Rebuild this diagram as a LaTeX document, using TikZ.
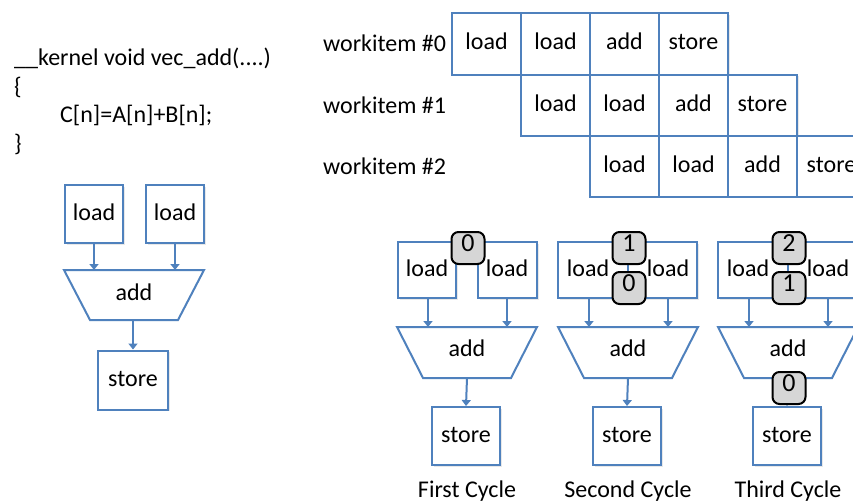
\documentclass[tikz,border=0pt]{standalone}
\usepackage{fontspec}
\setmainfont{Carlito}
\usetikzlibrary{arrows.meta,shadows}
\definecolor{boxblue}{HTML}{4F81BD}
\definecolor{badgegray}{HTML}{D6D6D6}

% One pipeline stage: #1 name, #2 centre x, #3/#4 left load box edges,
% #5/#6 right load box edges, #7 caption
\newcommand\pipestage[7]{%
  \node[unit, minimum width={#4-#3}, minimum height=56pt,
        label={[xshift={#2-40-(#3+#4)/2}]center:load}] (#1-la) at ({(#3+#4)/2}, 270) {};
  \node[unit, minimum width={#6-#5}, minimum height=56pt,
        label={[xshift={#2+40-(#5+#6)/2}]center:load}] (#1-lb) at ({(#5+#6)/2}, 270) {};
  \draw[trap] (#2-70,327) -- (#2+70,327) -- (#2+44,378) -- (#2-44,378) -- cycle;
  \node (#1-add) at (#2, 350) {add};
  \coordinate (#1-al) at (#2-39,327);
  \coordinate (#1-ar) at (#2+40,327);
  \coordinate (#1-tb) at (#2,378);
  \node[unit, minimum width=68pt, minimum height=58pt] (#1-st) at (#2-1, 436) {store};
  \draw[arr] (#1-la.south -| #1-al) -- (#1-al);
  \draw[arr] (#1-lb.south -| #1-ar) -- (#1-ar);
  \draw[arr] (#1-tb) -- (#1-st.north);
  \node[anchor=base] (#1-cap) at (#2, 497) {#7};
}

\begin{document}
\begin{tikzpicture}[x=1pt,y=-1pt,
  every node/.style={font=\fontsize{24}{29}\selectfont, inner sep=0pt, text height=1.2em, text depth=0pt},
  shade/.style={drop shadow={opacity=0.18, shadow xshift=1.5pt, shadow yshift=-1.5pt}},
  cell/.style={draw=boxblue, line width=2pt, fill=white, shade, minimum width=69pt, minimum height=61pt},
  unit/.style={draw=boxblue, line width=2pt, fill=white, shade},
  trap/.style={draw=boxblue, line width=2pt, fill=white},
  arr/.style={draw=boxblue, line width=2pt, -{Triangle[width=9pt,length=6pt]}},
  badge/.style={draw=black, line width=2pt, fill=badgegray, rounded corners=7pt,
    minimum width=33pt, minimum height=32pt, font=\fontsize{26}{30}\selectfont, text height=0.63em},
  code/.style={anchor=base west, text height=, text depth=}]

\useasboundingbox (0,0) rectangle (853,503);
\clip (0,0) rectangle (853,503);
\fill[white] (0,0) rectangle (853,503);

% kernel source
\node[code] (k1) at (14,65) {\_\_kernel void vec\_add(....)};
\node[code] (k2) at (14,94) {\{};
\node[code] (k3) at (60,122) {C[n]=A[n]+B[n];};
\node[code] (k4) at (14,151) {\}};

% work-items laid out in time
\foreach \r/\y in {0/44,1/105,2/166} {
  \node[anchor=base west] (w\r) at (323,\y+8) {workitem \#\r};
  \foreach \k/\t in {0/load,1/load,2/add,3/store} {
    \node[cell] (c\r-\k) at ({486.5+69*(\r+\k)}, \y) {\t};
  }
}

% dataflow graph of the kernel
\node[unit, minimum width=58pt, minimum height=58pt] (g-la) at (94,214) {load};
\node[unit, minimum width=58pt, minimum height=58pt] (g-lb) at (175,214) {load};
\draw[trap] (64,270) -- (204,270) -- (178,320) -- (90,320) -- cycle;
\node (g-add) at (134,294) {add};
\coordinate (g-al) at (94,270);
\coordinate (g-ar) at (175,270);
\coordinate (g-tb) at (133,320);
\node[unit, minimum width=70pt, minimum height=59pt] (g-st) at (133,380) {store};
\draw[arr] (g-la.south) -- (g-al);
\draw[arr] (g-lb.south) -- (g-ar);
\draw[arr] (g-tb) -- (g-st.north);

% pipelined execution, cycle by cycle
\pipestage{p1}{467}{398}{456}{478}{537}{First Cycle}
\pipestage{p2}{628}{558}{628}{628}{697}{Second Cycle}
\pipestage{p3}{788}{718}{788}{788}{858}{Third Cycle}

\node[badge] (b1-0) at (468,248) {0};
\node[badge] (b2-1) at (629,248) {1};
\node[badge] (b2-0) at (629,288) {0};
\node[badge] (b3-2) at (789,248) {2};
\node[badge] (b3-1) at (789,288) {1};
\node[badge] (b3-0) at (789,388) {0};
\end{tikzpicture}
\end{document}
